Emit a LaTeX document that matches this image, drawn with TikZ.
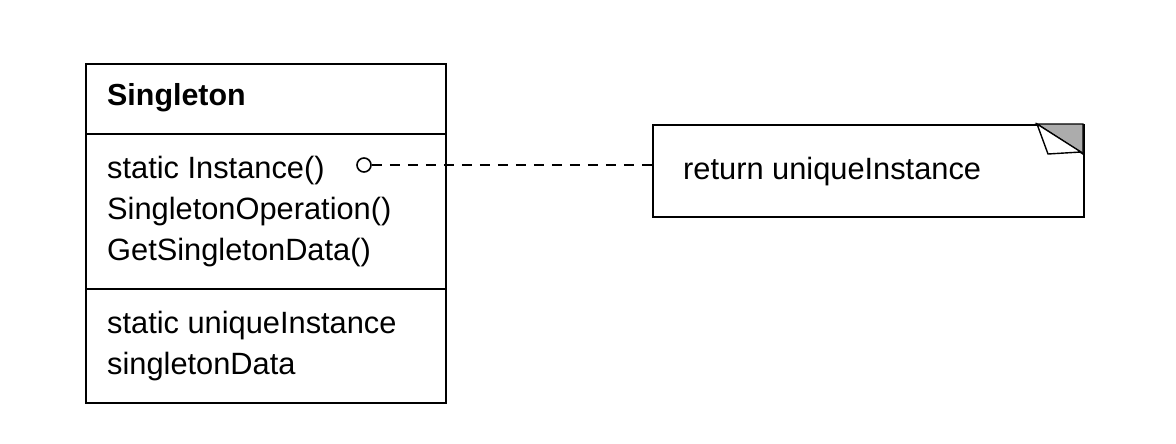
\documentclass[tikz,border=0pt]{standalone}
\usepackage{fontspec}
\setmainfont{Liberation Sans}
\usetikzlibrary{positioning}
\begin{document}
\begin{tikzpicture}[x=1pt,y=-1pt,
    txt/.style={anchor=base west,inner sep=0pt,font=\fontsize{30.8}{36}\selectfont},
    box/.style={draw,line width=1.6pt,anchor=north west,inner sep=0pt}]
    \useasboundingbox (0,0) rectangle (1176,444);
    \node[box,minimum width=360,minimum height=339] (singleton) at (85,63) {};
    \draw[line width=1.6pt] (85,134) -- (445,134) (85,289) -- (445,289);
    \node[txt,font=\fontsize{30.4}{36}\selectfont\bfseries] (title) at (107,106) {Singleton};
    \foreach \op [count=\i] in {static Instance(),SingletonOperation(),GetSingletonData()} {
      \node[txt] (op\i) at (107,137+41*\i) {\op};
    }
    \foreach \attr [count=\i] in {static uniqueInstance,singletonData} {
      \node[txt] (attr\i) at (107,292+41*\i) {\attr};
    }
    \node[box,minimum width=431,minimum height=92] (note) at (652,124) {};
    \filldraw[line width=1.4pt,fill=gray!65] (1037,124) -- (1083,124) -- (1083,154) -- cycle;
    \filldraw[line width=1.4pt,fill=white] (1037,124) -- (1048,154) -- (1081,152) -- cycle;
    \node[txt] (notetext) at (683,179) {return uniqueInstance};
    \node[draw,circle,line width=1.6pt,minimum size=14pt,inner sep=0pt] (instdot) at (364,165) {};
    \draw[line width=1.4pt,dash pattern=on 10pt off 8pt] (instdot) -- (instdot -| note.west);
  \end{tikzpicture}
\end{document}
